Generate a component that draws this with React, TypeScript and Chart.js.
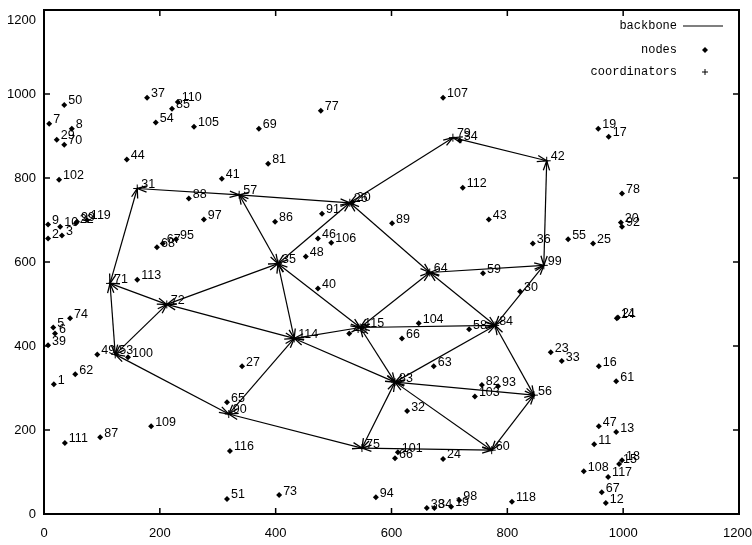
import { useEffect, useRef } from "react";
import { Chart, registerables } from "chart.js";

Chart.register(...registerables);

const xTicks = [0, 200, 400, 600, 800, 1000, 1200];
const yTicks = [0, 200, 400, 600, 800, 1000, 1200];

const legendLabels = ["backbone", "nodes", "coordinators"];

const nodeLabels = [
  "50", "7", "8", "29", "70", "102", "9", "2", "3", "10", "22", "99", "119",
  "37", "54", "85", "110", "44", "105", "69", "77", "81", "41", "88", "97",
  "86", "91", "46", "106", "48", "40", "68", "67", "95", "113", "74", "5",
  "6", "39", "1", "62", "49", "100", "111", "87", "109", "27", "65", "116",
  "51", "73", "94", "45", "66", "104", "58", "63", "32", "82", "93", "103",
  "66", "101", "24", "38", "34", "19", "98", "118", "112", "107", "89", "43",
  "36", "55", "59", "30", "23", "33", "19", "17", "78", "20", "92", "25",
  "21", "14", "16", "61", "47", "13", "11", "18", "15", "108", "117", "67",
  "12", "34", "20"
];
const nodeX = [
  35, 9, 48, 22, 35, 26, 7, 7, 31, 28, 55, 57, 74,
  178, 193, 221, 231, 143, 259, 371, 478, 387, 307, 250, 276,
  399, 480, 473, 496, 452, 473, 195, 205, 228, 161, 45, 16,
  19, 7, 17, 54, 92, 145, 36, 97, 185, 342, 316, 321,
  316, 406, 573, 527, 618, 647, 734, 673, 627, 756, 784, 744,
  606, 611, 689, 661, 674, 703, 717, 808, 723, 689, 601, 768,
  844, 905, 758, 822, 875, 894, 957, 975, 998, 996, 998, 948,
  991, 989, 958, 988, 958, 988, 950, 998, 993, 932, 974, 963,
  970, 718, 533
];
const nodeY = [
  974, 929, 917, 891, 879, 796, 689, 656, 663, 684, 692, 696, 700,
  991, 932, 965, 981, 844, 922, 917, 960, 834, 798, 751, 701,
  696, 715, 656, 646, 613, 537, 635, 644, 654, 558, 466, 444,
  430, 402, 309, 333, 380, 373, 169, 183, 209, 352, 266, 150,
  36, 45, 40, 430, 418, 454, 440, 352, 245, 307, 304, 280,
  133, 147, 131, 14, 14, 17, 33, 29, 777, 991, 692, 701,
  644, 654, 573, 530, 385, 364, 917, 898, 763, 694, 684, 644,
  468, 466, 352, 316, 209, 195, 166, 128, 119, 102, 88, 52,
  26, 889, 743
];

const coordLabels = [
  "31", "57", "26", "79", "42", "99", "64", "35", "71", "72",
  "53", "114", "115", "84", "83", "90", "75", "60", "56"
];
const coordX = [161, 337, 528, 706, 868, 863, 666, 404, 114, 212, 123, 432, 546, 779, 606, 319, 549, 773, 846];
const coordY = [775, 760, 741, 896, 841, 592, 575, 596, 549, 499, 380, 418, 444, 449, 314, 238, 157, 152, 283];

const edgeFrom = [
  "71", "31", "57", "57", "26", "79", "99", "26", "35", "64", "64", "115",
  "35", "35", "72", "71", "71", "53", "72", "114", "115", "115", "114",
  "90", "53", "90", "75", "75", "83", "83", "83", "84", "56", "84"
];
const edgeTo = [
  "31", "57", "26", "35", "79", "42", "42", "64", "26", "99", "84", "64",
  "115", "114", "35", "72", "53", "72", "114", "115", "84", "83", "83",
  "114", "90", "75", "83", "60", "60", "56", "84", "56", "60", "99"
];

const FONT = "'Liberation Sans', Arial, sans-serif";
const MONO = "'Liberation Mono', 'DejaVu Sans Mono', monospace";

function coordPoint(label: string) {
  const i = coordLabels.indexOf(label);
  return { x: coordX[i], y: coordY[i] };
}

function drawArrowHead(ctx: CanvasRenderingContext2D, x1: number, y1: number, x2: number, y2: number) {
  const ang = Math.atan2(y2 - y1, x2 - x1);
  const len = 10;
  const spread = 0.32;
  ctx.beginPath();
  ctx.moveTo(x2 - len * Math.cos(ang - spread), y2 - len * Math.sin(ang - spread));
  ctx.lineTo(x2, y2);
  ctx.lineTo(x2 - len * Math.cos(ang + spread), y2 - len * Math.sin(ang + spread));
  ctx.stroke();
}

const decorPlugin = {
  id: "decor",
  afterDatasetsDraw(chart: any) {
    const { ctx, chartArea: a, scales } = chart;
    const sx = scales.x;
    const sy = scales.y;
    ctx.save();
    // arrowheads
    ctx.strokeStyle = "#000";
    ctx.lineWidth = 1.3;
    for (let i = 0; i < edgeFrom.length; i++) {
      const p = coordPoint(edgeFrom[i]);
      const q = coordPoint(edgeTo[i]);
      const x1 = sx.getPixelForValue(p.x), y1 = sy.getPixelForValue(p.y);
      const x2 = sx.getPixelForValue(q.x), y2 = sy.getPixelForValue(q.y);
      drawArrowHead(ctx, x1, y1, x2, y2);
      drawArrowHead(ctx, x2, y2, x1, y1);
    }
    // point labels
    ctx.fillStyle = "#000";
    ctx.font = `12.5px ${FONT}`;
    ctx.textAlign = "left";
    ctx.textBaseline = "middle";
    for (let i = 0; i < nodeLabels.length; i++) {
      const px = sx.getPixelForValue(nodeX[i]);
      const py = sy.getPixelForValue(nodeY[i]);
      ctx.fillText(nodeLabels[i], px + 4, py - 4);
    }
    for (let i = 0; i < coordLabels.length; i++) {
      const px = sx.getPixelForValue(coordX[i]);
      const py = sy.getPixelForValue(coordY[i]);
      ctx.fillText(coordLabels[i], px + 4, py - 4);
    }
    // top y tick label and last x tick label, placed as in the reference
    ctx.font = `13px ${FONT}`;
    ctx.textAlign = "right";
    const yTop = yTicks[yTicks.length - 1];
    ctx.fillText(String(yTop), a.left - 8, sy.getPixelForValue(yTop) + 10);
    const xLast = xTicks[xTicks.length - 1];
    ctx.textBaseline = "top";
    ctx.fillText(String(xLast), chart.width, a.bottom + 13);
    ctx.textBaseline = "middle";
    // frame
    ctx.lineWidth = 2;
    ctx.strokeRect(a.left, a.top, a.right - a.left, a.bottom - a.top);
    ctx.lineWidth = 1.5;
    ctx.beginPath();
    for (const v of xTicks) {
      const x = sx.getPixelForValue(v);
      ctx.moveTo(x, a.bottom);
      ctx.lineTo(x, a.bottom - 6);
      ctx.moveTo(x, a.top);
      ctx.lineTo(x, a.top + 6);
    }
    for (const v of yTicks) {
      const y = sy.getPixelForValue(v);
      ctx.moveTo(a.left, y);
      ctx.lineTo(a.left + 6, y);
      ctx.moveTo(a.right, y);
      ctx.lineTo(a.right - 6, y);
    }
    ctx.stroke();
    // legend
    ctx.font = `12px ${MONO}`;
    ctx.textAlign = "right";
    const lx = a.right - 62;
    const ys = [a.top + 16, a.top + 40, a.top + 62];
    for (let i = 0; i < legendLabels.length; i++) {
      ctx.fillText(legendLabels[i], lx, ys[i]);
    }
    ctx.lineWidth = 1.2;
    ctx.beginPath();
    ctx.moveTo(lx + 6, ys[0]);
    ctx.lineTo(lx + 46, ys[0]);
    ctx.stroke();
    const mx = lx + 28;
    ctx.beginPath();
    ctx.moveTo(mx, ys[1] - 3);
    ctx.lineTo(mx + 3, ys[1]);
    ctx.lineTo(mx, ys[1] + 3);
    ctx.lineTo(mx - 3, ys[1]);
    ctx.closePath();
    ctx.fill();
    ctx.lineWidth = 1;
    ctx.beginPath();
    ctx.moveTo(mx - 3, ys[2]);
    ctx.lineTo(mx + 3, ys[2]);
    ctx.moveTo(mx, ys[2] - 3);
    ctx.lineTo(mx, ys[2] + 3);
    ctx.stroke();
    ctx.restore();
  },
};

export default function App() {
  const ref = useRef<HTMLCanvasElement | null>(null);
  useEffect(() => {
    document.body.style.margin = "0";
    const canvas = ref.current!;
    const edgeSets = edgeFrom.map((f, i) => ({
      label: "backbone",
      data: [coordPoint(f), coordPoint(edgeTo[i])],
      showLine: true,
      borderColor: "#000",
      borderWidth: 1.2,
      pointRadius: 0,
      fill: false,
    }));
    const topY = yTicks[yTicks.length - 1];
    const lastX = xTicks[xTicks.length - 1];
    const chart = new Chart(canvas, {
      type: "scatter",
      data: {
        datasets: [
          {
            label: "nodes",
            data: nodeX.map((x, i) => ({ x, y: nodeY[i] })),
            pointStyle: "rectRot",
            pointRadius: 3,
            backgroundColor: "#000",
            borderColor: "#000",
            borderWidth: 0,
          },
          {
            label: "coordinators",
            data: coordX.map((x, i) => ({ x, y: coordY[i] })),
            pointStyle: "cross",
            pointRadius: 4,
            borderColor: "#000",
            borderWidth: 1,
          },
          ...edgeSets,
        ] as any,
      },
      options: {
        responsive: false,
        animation: false,
        layout: { padding: { top: 10, right: 13, left: 0, bottom: 0 } },
        plugins: { legend: { display: false }, tooltip: { enabled: false } },
        scales: {
          x: {
            type: "linear",
            min: 0,
            max: 1200,
            afterBuildTicks: (s: any) => {
              s.ticks = xTicks.map((v) => ({ value: v }));
            },
            afterFit: (s: any) => {
              s.height = 31;
              s.paddingLeft = 0;
              s.paddingRight = 0;
            },
            grid: { display: false, drawTicks: false },
            border: { display: false },
            ticks: {
              color: "#000",
              font: { family: FONT, size: 13 },
              padding: 12,
              maxRotation: 0,
              callback: (v: any) => (v === lastX ? "" : String(v)),
            },
          },
          y: {
            type: "linear",
            min: 0,
            max: 1200,
            afterBuildTicks: (s: any) => {
              s.ticks = yTicks.map((v) => ({ value: v }));
            },
            afterFit: (s: any) => {
              s.width = 44;
              s.paddingTop = 0;
              s.paddingBottom = 0;
            },
            grid: { display: false, drawTicks: false },
            border: { display: false },
            ticks: {
              color: "#000",
              font: { family: FONT, size: 13 },
              padding: 8,
              callback: (v: any) => (v === topY ? "" : String(v)),
            },
          },
        },
      },
      plugins: [decorPlugin],
    });
    return () => chart.destroy();
  }, []);
  return <canvas ref={ref} width={752} height={545} style={{ display: "block" }} />;
}
